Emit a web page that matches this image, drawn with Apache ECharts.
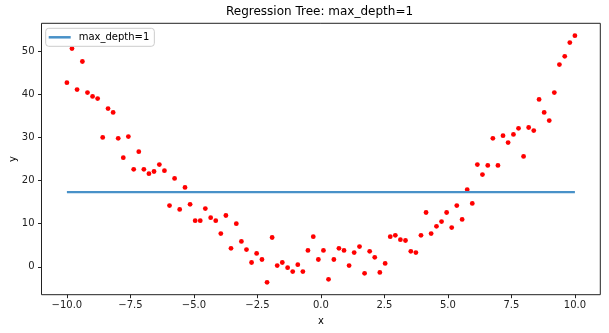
<!DOCTYPE html>
<html>
<head>
<meta charset="utf-8">
<script src="https://cdn.jsdelivr.net/npm/echarts@6/dist/echarts.min.js"></script>
<style>
html,body{margin:0;padding:0;background:#fff;}
#chart{width:609px;height:333px;}
</style>
</head>
<body>
<div id="chart"></div>
<script>
// Data
const xValues = [
  -10.00,-9.80,-9.60,-9.39,-9.19,-8.99,-8.79,-8.59,-8.38,-8.18,
  -7.98,-7.78,-7.58,-7.37,-7.17,-6.97,-6.77,-6.57,-6.36,-6.16,
  -5.96,-5.76,-5.56,-5.35,-5.15,-4.95,-4.75,-4.55,-4.34,-4.14,
  -3.94,-3.74,-3.54,-3.33,-3.13,-2.93,-2.73,-2.53,-2.32,-2.12,
  -1.92,-1.72,-1.52,-1.31,-1.11,-0.91,-0.71,-0.51,-0.30,-0.10,
  0.10,0.30,0.51,0.71,0.91,1.11,1.31,1.52,1.72,1.92,
  2.12,2.32,2.53,2.73,2.93,3.13,3.33,3.54,3.74,3.94,
  4.14,4.34,4.55,4.75,4.95,5.15,5.35,5.56,5.76,5.96,
  6.16,6.36,6.57,6.77,6.97,7.17,7.37,7.58,7.78,7.98,
  8.18,8.38,8.59,8.79,8.99,9.19,9.39,9.60,9.80,10.00
];
const yValues = [
  42.7,50.6,41.1,47.6,40.4,39.5,39.0,30.0,36.7,35.8,
  29.8,25.3,30.2,22.6,26.7,22.6,21.6,22.1,23.7,22.3,
  14.2,20.5,13.3,18.4,14.5,10.7,10.7,13.5,11.4,10.7,
  7.7,11.9,4.3,10.0,5.9,4.0,1.0,3.1,1.7,-3.6,
  6.8,0.3,1.0,-0.2,-1.1,0.5,-1.1,3.8,7.0,1.7,
  3.8,-2.9,1.7,4.3,3.8,0.3,3.3,4.7,-1.5,3.6,
  2.2,-1.3,0.8,7.0,7.3,6.3,6.1,3.6,3.3,7.3,
  12.6,7.7,9.4,10.5,12.6,9.1,14.2,11.0,17.9,14.7,
  23.7,21.4,23.5,29.8,23.5,30.4,28.8,30.7,32.1,25.6,
  32.3,31.6,38.8,35.8,33.9,40.4,46.9,48.8,52.0,53.6
];
const predX = [-10, 10];
const predY = [17.3, 17.3];
const xTicks = [-10, -7.5, -5, -2.5, 0, 2.5, 5, 7.5, 10];
const yTicks = [0, 10, 20, 30, 40, 50];
const seriesName = 'max_depth=1';
const titleText = 'Regression Tree: max_depth=1';

const font = 'DejaVu Sans';
const ink = '#222';
const lineColor = '#4891c8';

const scatterData = xValues.map((x, i) => [x, yValues[i]]);
const lineData = predX.map((x, i) => [x, predY[i]]);

const fmt = v => {
  const s = Math.abs(v).toFixed(1);
  return (v < 0 ? '\u2212' : '') + s;
};

const chart = echarts.init(document.getElementById('chart'), null, {renderer: 'canvas'});
chart.setOption({
  animation: false,
  backgroundColor: '#fff',
  textStyle: {fontFamily: font},
  title: {
    text: titleText,
    left: 226,
    top: 5,
    padding: 0,
    textStyle: {fontFamily: font, fontSize: 12, fontWeight: 'normal', color: '#000', lineHeight: 14}
  },
  legend: {
    data: [seriesName],
    left: 45.7,
    top: 28.3,
    orient: 'vertical',
    padding: [3, 5, 3, 3],
    itemGap: 0,
    icon: 'rect',
    itemWidth: 22,
    itemHeight: 2.5,
    borderColor: '#cccccc',
    borderWidth: 1,
    borderRadius: 3,
    backgroundColor: 'rgba(255,255,255,0.8)',
    selectedMode: false,
    textStyle: {fontFamily: font, fontSize: 10, color: '#000', lineHeight: 12, padding: [0, 0, 0, 3]}
  },
  grid: {
    left: 41.5,
    top: 23.3,
    width: 558.8,
    height: 271.4,
    containLabel: false,
    outerBoundsMode: 'none',
    show: true,
    borderColor: ink,
    borderWidth: 1,
    backgroundColor: 'transparent'
  },
  xAxis: {
    type: 'value',
    min: -11,
    max: 11,
    name: 'x',
    nameLocation: 'middle',
    nameGap: 22,
    nameMoveOverlap: false,
    nameTextStyle: {fontFamily: font, fontSize: 10, color: '#000'},
    axisLine: {show: false, onZero: false},
    splitLine: {show: false},
    axisTick: {show: true, inside: false, length: 3.5, lineStyle: {color: ink, width: 1}, customValues: xTicks},
    axisLabel: {show: true, margin: 6, fontFamily: font, fontSize: 10, color: ink, customValues: xTicks, formatter: fmt}
  },
  yAxis: {
    type: 'value',
    min: -6.46,
    max: 56.46,
    name: 'y',
    nameLocation: 'middle',
    nameRotate: 90,
    nameGap: 23,
    nameMoveOverlap: false,
    nameTextStyle: {fontFamily: font, fontSize: 10, color: '#000'},
    axisLine: {show: false, onZero: false},
    splitLine: {show: false},
    axisTick: {show: true, inside: false, length: 3.5, lineStyle: {color: ink, width: 1}, customValues: yTicks},
    axisLabel: {show: true, margin: 7, fontFamily: font, fontSize: 10, color: ink, customValues: yTicks, formatter: v => String(v)}
  },
  series: [
    {
      name: 'data',
      type: 'scatter',
      data: scatterData,
      symbol: 'circle',
      symbolSize: 4.8,
      itemStyle: {color: '#ff0000', opacity: 1},
      z: 2
    },
    {
      name: seriesName,
      type: 'line',
      data: lineData,
      showSymbol: false,
      symbol: 'none',
      lineStyle: {color: lineColor, width: 2.3},
      itemStyle: {color: lineColor},
      z: 3
    }
  ]
});
</script>
</body>
</html>
